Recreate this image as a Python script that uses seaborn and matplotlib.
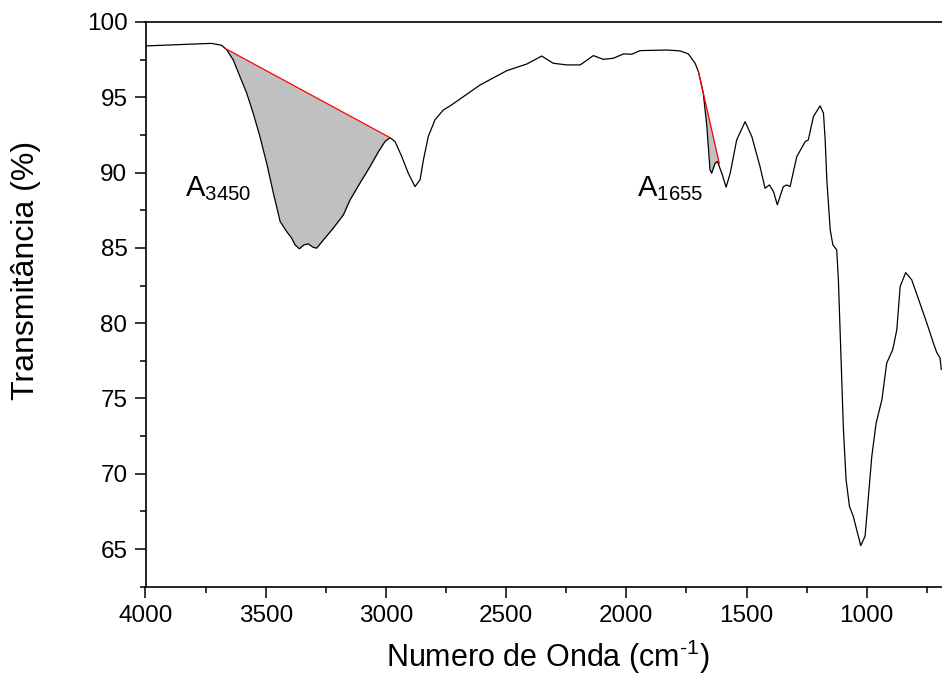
import numpy as np
import pandas as pd
import matplotlib
matplotlib.use("Agg")
import matplotlib.pyplot as plt
from matplotlib.ticker import MultipleLocator
import seaborn as sns

# ---- data ----
wavenumber = [4000, 3794, 3725, 3683, 3669, 3662, 3635, 3607, 3579, 3552, 3524, 3496,
              3468, 3440, 3413, 3392, 3378, 3360, 3341, 3323, 3304, 3288, 3260, 3219,
              3177, 3149, 3108, 3066, 3031, 3004, 2983, 2962, 2934, 2907, 2879, 2858,
              2844, 2824, 2796, 2761, 2733, 2678, 2608, 2497, 2414, 2352, 2304, 2248,
              2192, 2137, 2096, 2054, 2012, 1977, 1943, 1832, 1776, 1742, 1714, 1700,
              1680, 1665, 1652, 1645, 1631, 1621, 1603, 1585, 1568, 1541, 1506, 1478,
              1444, 1423, 1405, 1388, 1372, 1347, 1333, 1319, 1291, 1256, 1243, 1222,
              1194, 1180, 1173, 1166, 1152, 1141, 1125, 1118, 1111, 1104, 1097, 1086,
              1072, 1056, 1042, 1025, 1007, 993, 979, 961, 937, 917, 892, 875, 861,
              838, 813, 779, 750, 723, 709, 695, 690]
transmittance = [98.41, 98.54, 98.58, 98.45, 98.25, 98.14, 97.48, 96.37, 95.27, 93.94,
                 92.39, 90.62, 88.63, 86.75, 86.09, 85.65, 85.20, 84.94, 85.20, 85.27,
                 85.05, 84.98, 85.53, 86.31, 87.19, 88.19, 89.30, 90.40, 91.39, 92.06,
                 92.32, 92.06, 91.06, 89.96, 89.07, 89.52, 90.84, 92.39, 93.50, 94.16,
                 94.43, 95.04, 95.82, 96.77, 97.21, 97.74, 97.26, 97.15, 97.15, 97.77,
                 97.52, 97.59, 97.88, 97.86, 98.10, 98.14, 98.08, 97.88, 97.26, 96.70,
                 95.27, 93.05, 90.18, 89.96, 90.62, 90.73, 89.96, 89.03, 89.96, 92.17,
                 93.38, 92.39, 90.40, 88.96, 89.18, 88.74, 87.86, 89.07, 89.18, 89.07,
                 91.06, 92.06, 92.17, 93.72, 94.43, 93.94, 92.17, 89.50, 86.20, 85.20,
                 84.87, 82.88, 79.56, 76.24, 72.93, 69.61, 67.84, 67.17, 66.29, 65.23,
                 65.85, 68.50, 71.16, 73.37, 74.92, 77.35, 78.24, 79.56, 82.44, 83.36,
                 82.88, 81.33, 80.00, 78.68, 78.06, 77.68, 76.91]

# baselines of the two integrated bands (endpoints)
band3450_x = [3669, 2983]
band3450_y = [98.25, 92.32]
band1655_x = [1700, 1613]
band1655_y = [96.70, 90.58]

band_labels = ["3450", "1655"]
band_label_pos_x = [3836, 1955]
band_label_pos_y = [88.4, 88.4]

x_ticks = [4000, 3500, 3000, 2500, 2000, 1500, 1000]
y_ticks = [65, 70, 75, 80, 85, 90, 95, 100]

df = pd.DataFrame({"wn": wavenumber, "T": transmittance})

# ---- style ----
sns.set_style("ticks")
plt.rcParams["font.family"] = ["Liberation Sans", "DejaVu Sans"]
plt.rcParams["mathtext.fontset"] = "custom"
plt.rcParams["mathtext.rm"] = "Liberation Sans"
plt.rcParams["mathtext.it"] = "Liberation Sans"
plt.rcParams["mathtext.default"] = "regular"
for k in ["text.color", "axes.labelcolor", "xtick.color", "ytick.color",
          "xtick.labelcolor", "ytick.labelcolor", "axes.edgecolor"]:
    plt.rcParams[k] = "black"

fig = plt.figure(figsize=(9.42, 6.87), dpi=100)
ax = fig.add_axes([145.5 / 942, (687 - 586.7) / 687, 805.4 / 942, 564.7 / 687])

sns.lineplot(data=df, x="wn", y="T", sort=False, estimator=None, color="black",
             linewidth=0.9, ax=ax)

wn = np.array(wavenumber, dtype=float)
tr = np.array(transmittance, dtype=float)
for bx, by in [(band3450_x, band3450_y), (band1655_x, band1655_y)]:
    m = (wn <= bx[0]) & (wn >= bx[1])
    xs = np.concatenate([[bx[0]], wn[m], [bx[1]]])
    ys = np.concatenate([[by[0]], tr[m], [by[1]]])
    base = np.interp(xs, bx[::-1], by[::-1])
    ax.fill_between(xs, ys, base, color="#c0c0c0", linewidth=0, zorder=1)
    ax.plot(bx, by, color="red", linewidth=0.9, zorder=3)

for lab, lx, ly in zip(band_labels, band_label_pos_x, band_label_pos_y):
    ax.text(lx, ly, r"A$_{%s}$" % lab, fontsize=21, ha="left", va="baseline", color="black")

ax.set_xlim(4000, 650)
ax.set_ylim(62.5, 100)
ax.set_xticks(x_ticks)
ax.set_yticks(y_ticks)
ax.xaxis.set_minor_locator(MultipleLocator(250))
ax.yaxis.set_minor_locator(MultipleLocator(2.5))
ax.tick_params(which="major", direction="out", length=8, width=1.1, labelsize=17.5,
               pad=5, colors="black")
ax.tick_params(which="minor", direction="out", length=4.5, width=1.1, colors="black")
for s in ax.spines.values():
    s.set_linewidth(1.2)
    s.set_color("black")

ax.set_xlabel("Numero de Onda (cm$^{\u2010 1}$)", fontsize=22, labelpad=8, color="black")
ax.set_ylabel("Transmitância (%)", fontsize=23, color="black")
ax.yaxis.set_label_coords(-0.13, 0.56)

fig.savefig("out.png", dpi=100)
